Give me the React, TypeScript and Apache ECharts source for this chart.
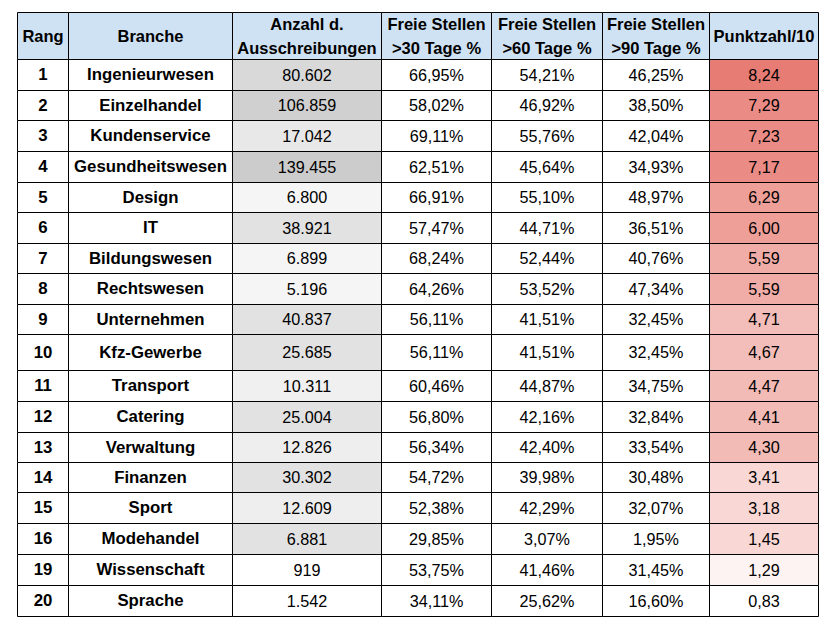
import React, { useEffect, useRef } from "react";
import * as echarts from "echarts";

// ---- data ----
const headers = [
  "Rang",
  "Branche",
  "Anzahl d.\nAusschreibungen",
  "Freie Stellen\n>30 Tage %",
  "Freie Stellen\n>60 Tage %",
  "Freie Stellen\n>90 Tage %",
  "Punktzahl/10",
];
const ranks = [1, 2, 3, 4, 5, 6, 7, 8, 9, 10, 11, 12, 13, 14, 15, 16, 19, 20];
const branches = [
  "Ingenieurwesen", "Einzelhandel", "Kundenservice", "Gesundheitswesen", "Design", "IT",
  "Bildungswesen", "Rechtswesen", "Unternehmen", "Kfz-Gewerbe", "Transport", "Catering",
  "Verwaltung", "Finanzen", "Sport", "Modehandel", "Wissenschaft", "Sprache",
];
const anzahl = [80602, 106859, 17042, 139455, 6800, 38921, 6899, 5196, 40837, 25685, 10311, 25004, 12826, 30302, 12609, 6881, 919, 1542];
const over30 = [66.95, 58.02, 69.11, 62.51, 66.91, 57.47, 68.24, 64.26, 56.11, 56.11, 60.46, 56.80, 56.34, 54.72, 52.38, 29.85, 53.75, 34.11];
const over60 = [54.21, 46.92, 55.76, 45.64, 55.10, 44.71, 52.44, 53.52, 41.51, 41.51, 44.87, 42.16, 42.40, 39.98, 42.29, 3.07, 41.46, 25.62];
const over90 = [46.25, 38.50, 42.04, 34.93, 48.97, 36.51, 40.76, 47.34, 32.45, 32.45, 34.75, 32.84, 33.54, 30.48, 32.07, 1.95, 31.45, 16.60];
const score = [8.24, 7.29, 7.23, 7.17, 6.29, 6.00, 5.59, 5.59, 4.71, 4.67, 4.47, 4.41, 4.30, 3.41, 3.18, 1.45, 1.29, 0.83];

// ---- styles (cell fills) ----
const headerFill = "#cfe2f3";
const anzahlFills = [
  "#d9d9d9", "#d0d0d0", "#e8e8e8", "#cccccc", "#f5f5f5", "#e2e2e2", "#f5f5f5", "#f5f5f5", "#e2e2e2",
  "#e2e2e2", "#f0f0f0", "#e2e2e2", "#eeeeee", "#e2e2e2", "#eeeeee", "#e2e2e2", "#ffffff", "#ffffff",
];
const scoreFills = [
  "#e67c73", "#ea8c85", "#ea8c85", "#ea8c85", "#ee9f98", "#ee9f98", "#f0aca7", "#f0aca7", "#f3bdb9",
  "#f3bdb9", "#f2bbb6", "#f2bbb6", "#f2bbb6", "#f8d7d4", "#f8d7d4", "#f8d7d4", "#fdf3f2", "#ffffff",
];

// ---- layout (table units) ----
const colEdges = [0, 51.3, 214.7, 363.7, 473.7, 584.7, 691.7, 801];
const rowEdges = [0, 47, 77.5, 108, 138.7, 169.5, 200, 230.7, 261.3, 292, 322.3, 358, 388.5, 419.5, 450, 480.3, 511.3, 542, 572.7, 603.5];

const fmtInt = (n: number) => String(n).replace(/\B(?=(\d{3})+(?!\d))/g, ".");
const fmtPct = (n: number) => n.toFixed(2).replace(".", ",") + "%";
const fmtDec = (n: number) => n.toFixed(2).replace(".", ",");

export default function App() {
  const ref = useRef<HTMLDivElement>(null);
  useEffect(() => {
    document.body.style.margin = "0";
    if (!ref.current) return;
    const chart = echarts.init(ref.current, null, { renderer: "svg" });

    // cells: [col, row, text, fill, kind] kind: 0 regular, 1 bold body, 2 header
    const cells: any[] = [];
    headers.forEach((h, c) => cells.push([c, 0, h, headerFill, 2]));
    ranks.forEach((r, i) => {
      const row = i + 1;
      cells.push([0, row, String(r), "#ffffff", 1]);
      cells.push([1, row, branches[i], "#ffffff", 1]);
      cells.push([2, row, fmtInt(anzahl[i]), anzahlFills[i], 0]);
      cells.push([3, row, fmtPct(over30[i]), "#ffffff", 0]);
      cells.push([4, row, fmtPct(over60[i]), "#ffffff", 0]);
      cells.push([5, row, fmtPct(over90[i]), "#ffffff", 0]);
      cells.push([6, row, fmtDec(score[i]), scoreFills[i], 0]);
    });

    const snap = (v: number) => Math.round(v) + 0.5;
    const sizes = [16.2, 16.8, 16.5];

    chart.setOption({
      animation: false,
      grid: { left: 17, top: 12, width: 801, height: 603.5 },
      xAxis: { type: "value", min: 0, max: 801, show: false },
      yAxis: { type: "value", min: 0, max: 603.5, inverse: true, show: false },
      series: [
        {
          type: "custom",
          clip: false,
          data: cells,
          renderItem: (params: any, api: any) => {
            const c = api.value(0);
            const r = api.value(1);
            const d = cells[params.dataIndex];
            const p0 = api.coord([colEdges[c], rowEdges[r]]);
            const p1 = api.coord([colEdges[c + 1], rowEdges[r + 1]]);
            const x0 = snap(p0[0]);
            const y0 = snap(p0[1]);
            const x1 = snap(p1[0]);
            const y1 = snap(p1[1]);
            return {
              type: "group",
              children: [
                {
                  type: "rect",
                  shape: { x: x0, y: y0, width: x1 - x0, height: y1 - y0 },
                  style: { fill: d[3], stroke: "#000000", lineWidth: 1 },
                },
                {
                  type: "text",
                  style: {
                    text: d[2],
                    x: (x0 + x1) / 2,
                    y: (y0 + y1) / 2 - 0.5,
                    align: "center",
                    verticalAlign: "middle",
                    fontFamily: "Liberation Sans, Arial, sans-serif",
                    fontSize: sizes[d[4]],
                    fontWeight: d[4] ? "bold" : "normal",
                    lineHeight: 24,
                    fill: "#000000",
                  },
                },
              ],
            };
          },
        },
      ],
    });
    return () => chart.dispose();
  }, []);
  return <div ref={ref} style={{ width: 832, height: 621 }} />;
}
